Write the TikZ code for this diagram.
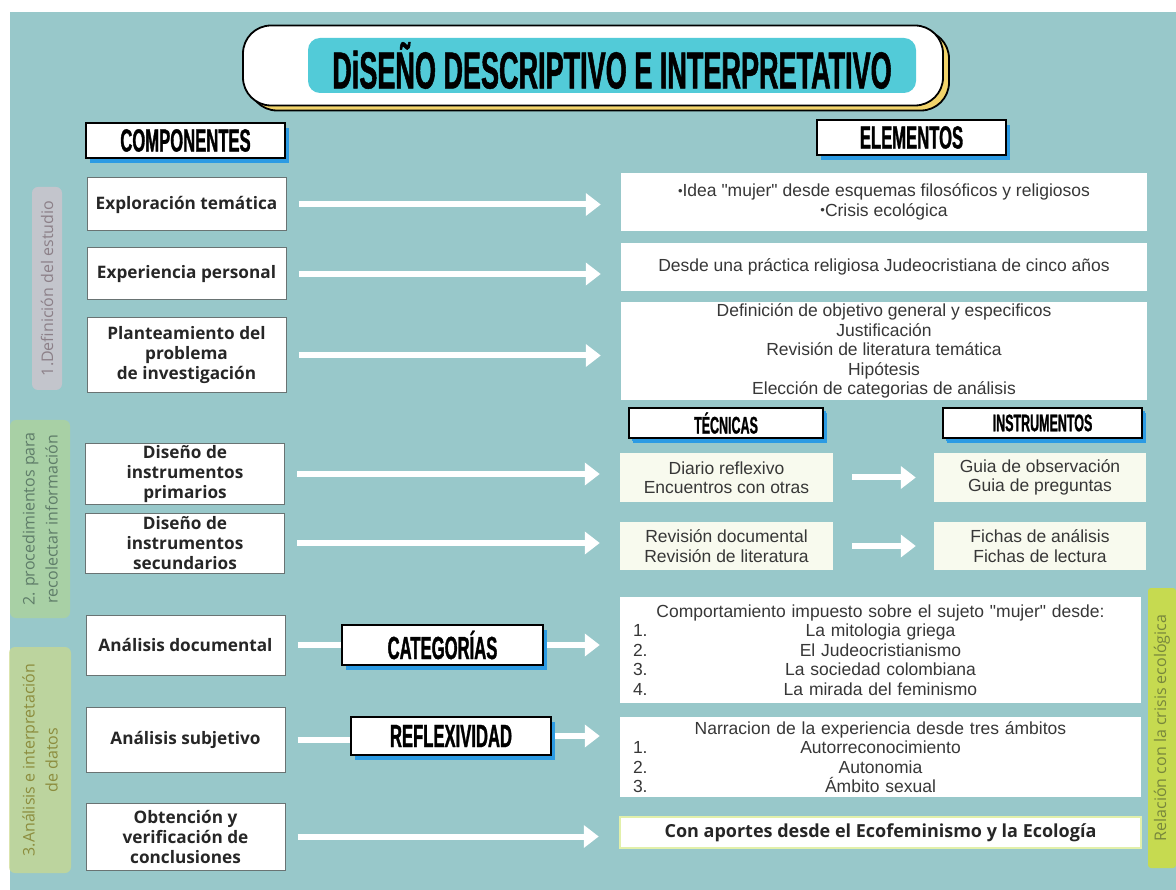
\documentclass[tikz,border=0pt]{standalone}
\usepackage{fontspec}
\setmainfont{Open Sans}
\newfontfamily\cuerpo{Liberation Sans}
\newfontfamily\cabecera[FakeStretch=0.52,FakeBold=1]{Liberation Sans}
\usetikzlibrary{arrows.meta}
\usetikzlibrary{shadows}
\definecolor{fondo}{RGB}{152,200,202}
\definecolor{azul}{RGB}{44,155,227}
\definecolor{amarillo}{RGB}{242,212,107}
\definecolor{cian}{RGB}{82,203,216}
\definecolor{gris}{RGB}{105,115,115}
\definecolor{crema}{RGB}{248,250,238}
\definecolor{lima}{RGB}{226,240,170}
\definecolor{rosa}{RGB}{214,196,206}
\definecolor{verde}{RGB}{176,212,150}
\definecolor{oliva}{RGB}{204,218,140}
\definecolor{pistacho}{RGB}{198,218,80}
\definecolor{tinta1}{RGB}{140,128,136}
\definecolor{tinta2}{RGB}{95,125,105}
\definecolor{tinta3}{RGB}{140,141,62}
\definecolor{tinta4}{RGB}{120,135,60}
\definecolor{letra}{RGB}{55,55,55}
\newcommand{\numlin}[2]{\leavevmode\hbox to \linewidth{\rlap{#1}\hfil#2\hfil}}
\newcommand{\punto}{\raisebox{1.5pt}{\fontsize{13}{13}\selectfont•}}
\tikzset{caja/.style={draw=gris, line width=1pt, fill=white, minimum width=199pt,
    align=center, inner sep=2pt, text=black!85, font=\bfseries\fontsize{17.2}{20}\selectfont}}
\tikzset{texto/.style={fill=white, align=center, inner sep=2pt, text=letra,
    font=\cuerpo\fontsize{17.5}{19.5}\selectfont}}
\tikzset{cabeza/.style={draw=black, line width=1.6pt, fill=white, inner sep=0pt,
    font=\cabecera\bfseries\fontsize{32}{32}\selectfont,
    drop shadow={shadow xshift=4pt, shadow yshift=-5pt, fill=azul, opacity=1}}}
\tikzset{flecha/.style={draw=white, line width=6pt, -{Triangle[length=15pt,width=22pt]},
    shorten <=12pt, shorten >=20pt}}
\tikzset{tramo/.style={draw=white, line width=6pt, shorten <=12pt}}
\tikzset{etiqueta/.style={rotate=90, rounded corners=6pt, align=center, inner sep=0pt,
    font=\fontsize{16}{23}\selectfont}}

\begin{document}
\begin{tikzpicture}[x=1pt,y=-1pt]
\useasboundingbox (0,0) rectangle (1176,890);
\fill[white] (0,0) rectangle (1176,890);
\fill[fondo] (10,12) rectangle (1176,890);

% titulo
\node[draw=black, line width=1.8pt, fill=white, rounded corners=28pt,
  minimum width=700pt, minimum height=80pt,
  copy shadow={shadow xshift=6pt, shadow yshift=-5pt, fill=amarillo, draw=black, line width=1.8pt}]
  (marco) at (593,65.5) {};
\node[fill=cian, rounded corners=12pt, minimum width=608pt, minimum height=55pt, inner sep=0pt,
  font=\cabecera\bfseries\fontsize{52}{52}\selectfont] (titulo) at (612,65.5)
  {DiSEÑO DESCRIPTIVO E INTERPRETATIVO};

% etiquetas laterales
\node[etiqueta, fill=rosa, fill opacity=0.7, text opacity=1, text=tinta1,
  minimum width=203pt, minimum height=30pt] (et1) at (47,288.5) {1.Definición del estudio};
\node[etiqueta, fill=verde, fill opacity=0.7, text opacity=1, text=tinta2,
  minimum width=198pt, minimum height=60pt] (et2) at (40,519) {2. procedimientos para\\recolectar información};
\node[etiqueta, fill=oliva, fill opacity=0.7, text opacity=1, text=tinta3,
  minimum width=226pt, minimum height=62pt] (et3) at (40,760) {3.Análisis e interpretación\\de datos};
\node[etiqueta, fill=pistacho, text=tinta4, rounded corners=3pt,
  minimum width=280pt, minimum height=28pt] (et4) at (1162,728) {Relación con la crisis ecológica};

% cabeceras
\node[cabeza, minimum width=199pt, minimum height=35pt] (compo) at (185.5,140.5) {COMPONENTES};
\node[cabeza, minimum width=189pt, minimum height=35pt] (eleme) at (911.5,137.5) {ELEMENTOS};
\node[cabeza, minimum width=194pt, minimum height=30pt, font=\cabecera\bfseries\fontsize{24}{24}\selectfont,
  drop shadow={shadow xshift=3pt, shadow yshift=-3pt, fill=azul, opacity=1}] (tecni) at (726,423) {TÉCNICAS};
\node[cabeza, minimum width=199pt, minimum height=30pt, font=\cabecera\bfseries\fontsize{24}{24}\selectfont,
  drop shadow={shadow xshift=3pt, shadow yshift=-3pt, fill=azul, opacity=1}] (instr) at (1042.5,423) {INSTRUMENTOS};

% componentes
\node[caja, minimum height=53pt] (expl) at (186.5,204.5) {Exploración temática};
\node[caja, minimum height=52pt] (expe) at (186.5,274) {Experiencia personal};
\node[caja, minimum height=75pt] (plan) at (186.5,355.5) {Planteamiento del\\problema\\de investigación};
\node[caja, minimum height=58pt] (prim) at (185,474) {Diseño de\\instrumentos\\primarios};
\node[caja, minimum height=60pt] (secu) at (185,543) {Diseño de\\instrumentos\\secundarios};
\node[caja, minimum height=60pt] (adoc) at (185.5,645) {Análisis documental};
\node[caja, minimum height=65pt] (asub) at (185.5,739.5) {Análisis subjetivo};
\node[caja, minimum height=67pt] (obte) at (185.5,836.5) {Obtención y\\verificación de\\conclusiones};

\node[cabeza, minimum width=201pt, minimum height=40pt] (categ) at (442.5,645) {CATEGORÍAS};
\node[cabeza, minimum width=200pt, minimum height=38pt] (refle) at (451,736) {REFLEXIVIDAD};

% elementos
\node[texto, minimum width=526pt, minimum height=58pt] (idea) at (884,202)
  {\punto Idea "mujer" desde esquemas filosóficos y religiosos\\\punto Crisis ecológica};
\node[texto, minimum width=526pt, minimum height=48pt] (desd) at (884,267)
  {Desde una práctica religiosa Judeocristiana de cinco años};
\node[texto, minimum width=526pt, minimum height=98pt] (defi) at (884,351)
  {Definición de objetivo general y especificos\\Justificación\\Revisión de literatura temática\\Hipótesis\\Elección de categorias de análisis};
\node[texto, fill=crema, minimum width=213pt, minimum height=49pt] (diar) at (726.5,477.5)
  {Diario reflexivo\\Encuentros con otras};
\node[texto, fill=crema, minimum width=213pt, minimum height=48pt] (revi) at (726.5,546)
  {Revisión documental\\Revisión de literatura};
\node[texto, fill=crema, minimum width=212pt, minimum height=49pt] (guia) at (1040,477.5)
  {Guia de observación\\Guia de preguntas};
\node[texto, fill=crema, minimum width=212pt, minimum height=48pt] (fich) at (1040,546)
  {Fichas de análisis\\Fichas de lectura};
\node[texto, text width=495pt, minimum height=106pt, inner xsep=13pt] (comp) at (880.5,650)
  {Comportamiento impuesto sobre el sujeto "mujer" desde:\\
   \numlin{1.}{La mitologia griega}\\\numlin{2.}{El Judeocristianismo}\\
   \numlin{3.}{La sociedad colombiana}\\\numlin{4.}{La mirada del feminismo}};
\node[texto, text width=495pt, minimum height=80pt, inner xsep=13pt] (narr) at (880.5,757)
  {Narracion de la experiencia desde tres ámbitos\\
   \numlin{1.}{Autorreconocimiento}\\\numlin{2.}{Autonomia}\\\numlin{3.}{Ámbito sexual}};
\node[texto, draw=lima, line width=2.5pt, minimum width=521pt, minimum height=31pt,
  text=black!85, font=\bfseries\fontsize{18}{20}\selectfont] (apor) at (880.5,832.5)
  {Con aportes desde el Ecofeminismo y la Ecología};

% flechas
\draw[flecha] (expl.east) -- (expl.east -| idea.west);
\draw[flecha] (expe.east) -- (expe.east -| desd.west);
\draw[flecha] (plan.east) -- (plan.east -| defi.west);
\draw[flecha] (prim.east) -- (prim.east -| diar.west);
\draw[flecha] (secu.east) -- (secu.east -| revi.west);
\draw[flecha, shorten <=19pt, shorten >=18pt] (diar.east) -- (guia.west);
\draw[flecha, shorten <=19pt, shorten >=18pt] (revi.east) -- (fich.west);
\draw[tramo] (adoc.east) -- (categ.west);
\draw[flecha, shorten <=3pt] (categ.east) -- (categ.east -| comp.west);
\draw[tramo] (asub.east) -- (asub.east -| refle.west);
\draw[flecha, shorten <=3pt] (refle.east) -- (refle.east -| narr.west);
\draw[flecha] (obte.east) -- (obte.east -| apor.west);
\end{tikzpicture}
\end{document}
